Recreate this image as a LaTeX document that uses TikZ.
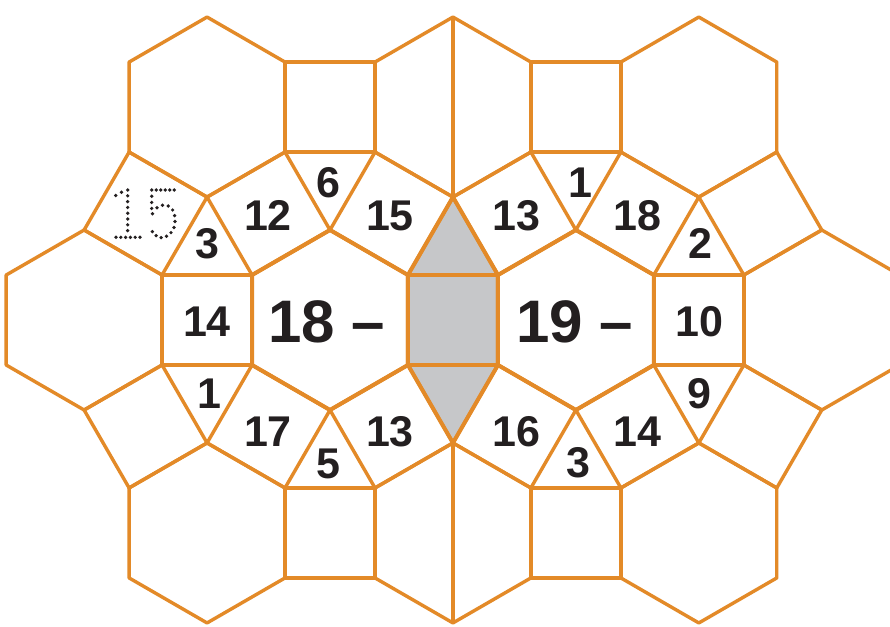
\documentclass[tikz,border=0pt]{standalone}
\usepackage{fontspec}
\setmainfont{Liberation Sans}
\usetikzlibrary{calc}
\definecolor{tileorange}{RGB}{227,138,40}
\definecolor{tilegray}{RGB}{198,199,201}
\definecolor{textdark}{RGB}{35,31,32}
\newcommand\mkhex[3]{%
  \coordinate (#1c) at (#2,#3);
  \coordinate (#1T) at (#2,#3-90);
  \coordinate (#1TR) at (#2+77.94,#3-45);
  \coordinate (#1BR) at (#2+77.94,#3+45);
  \coordinate (#1B) at (#2,#3+90);
  \coordinate (#1BL) at (#2-77.94,#3+45);
  \coordinate (#1TL) at (#2-77.94,#3-45);
}
\newcommand\drawhex[1]{\draw[tile] (#1T) -- (#1TR) -- (#1BR) -- (#1B) -- (#1BL) -- (#1TL) -- cycle;}
\newcommand\hsq[2]{\draw[tile] (#1TR) -- (#2TL) -- (#2BL) -- (#1BR) -- cycle;}
\newcommand\ursq[2]{\draw[tile] (#1T) -- (#2BL) -- (#2B) -- (#1TR) -- cycle;}
\newcommand\ulsq[2]{\draw[tile] (#1TL) -- (#2B) -- (#2BR) -- (#1T) -- cycle;}
\tikzset{
  tile/.style={draw=tileorange, line width=3.4pt, line join=round},
  inner/.style={draw=tileorange, line width=4pt, line join=round},
  num/.style={font=\bfseries\fontsize{43}{43}\selectfont, text=textdark, anchor=base, inner sep=0pt},
  bignum/.style={font=\bfseries\fontsize{60}{60}\selectfont, text=textdark, anchor=base, inner sep=0pt},
  dotd/.style={fill=textdark}
}
\begin{document}
\begin{tikzpicture}[x=1pt,y=-1pt]
\useasboundingbox (0,0) rectangle (890,626);
\clip (0,0) rectangle (890,626);
\fill[white] (0,0) rectangle (890,626);
% hexagon centres
\mkhex{hA}{84.12}{320}
\mkhex{hB}{330}{320}
\mkhex{hC}{575.88}{320}
\mkhex{hD}{821.76}{320}
\mkhex{uA}{207.06}{107.06}
\mkhex{uB}{452.94}{107.06}
\mkhex{uC}{698.82}{107.06}
\mkhex{dA}{207.06}{532.94}
\mkhex{dB}{452.94}{532.94}
\mkhex{dC}{698.82}{532.94}
% grey region
\fill[tilegray] (hBTR) -- (uBB) -- (hCTL) -- (hCBL) -- (dBT) -- (hBBR) -- cycle;
% hexagons
\drawhex{hA}\drawhex{hB}\drawhex{hC}\drawhex{hD}
\drawhex{uA}\drawhex{uB}\drawhex{uC}
\drawhex{dA}\drawhex{dB}\drawhex{dC}
% squares
\hsq{hA}{hB}\hsq{hB}{hC}\hsq{hC}{hD}
\hsq{uA}{uB}\hsq{uB}{uC}\hsq{dA}{dB}\hsq{dB}{dC}
\ursq{hB}{uB}\ursq{hC}{uC}\ursq{hA}{uA}
\ursq{dA}{hB}\ursq{dB}{hC}\ursq{dC}{hD}
\ulsq{hB}{uA}\ulsq{hC}{uB}\ulsq{hD}{uC}
\ulsq{dB}{hB}\ulsq{dC}{hC}\ulsq{dA}{hA}
% central region slightly heavier
\draw[inner] (hBT) -- (hBTR) -- (hBBR) -- (hBB) -- (hBBL) -- (hBTL) -- cycle;
\draw[inner] (hCT) -- (hCTR) -- (hCBR) -- (hCB) -- (hCBL) -- (hCTL) -- cycle;
\draw[inner] (hBTR) -- (uBB) -- (hCTL) -- (hCBL) -- (dBT) -- (hBBR) -- cycle;
% vertical split lines
\draw[tile] (uBT) -- (uBB);
\draw[tile] (dBT) -- (dBB);
% labels
\node[num] (n12) at (268,230) {12};
\node[num] (n6) at (328,197) {6};
\node[num] (n15) at (390,230) {15};
\node[num] (n3a) at (207.5,258) {3};
\node[num] (n14a) at (207,336) {14};
\node[bignum] (n18) at (327,342) {18 –};
\node[num] (n1b) at (209,408) {1};
\node[num] (n17) at (268,446) {17};
\node[num] (n5) at (328,478) {5};
\node[num] (n13b) at (390,446) {13};
\node[num] (n13a) at (516,230) {13};
\node[num] (n1a) at (580,197) {1};
\node[num] (n18a) at (637,230) {18};
\node[num] (n2) at (700,258) {2};
\node[bignum] (n19) at (575,342) {19 –};
\node[num] (n10) at (699,336.5) {10};
\node[num] (n9) at (699,408) {9};
\node[num] (n16) at (516,446) {16};
\node[num] (n14b) at (637,446) {14};
\node[num] (n3b) at (578,477) {3};
% dotted tracing numeral 15
\foreach \p in {(115.7,195.5),(121.5,192.3)} \fill[dotd] \p circle (1.85);
\foreach \yy in {190,195.8,201.6,207.4,213.2,219,224.8,230.6} \fill[dotd] (127.7,\yy) circle (1.85);
\foreach \xx in {116,120.8,125.6,130.4,135.2,140} \fill[dotd] (\xx,237.3) circle (1.85);
\foreach \xx in {151.7,156.2,160.7,165.2,169.8,174.3} \fill[dotd] (\xx,190) circle (1.85);
\foreach \yy in {196.2,202.4,208.4} \fill[dotd] (151.7,\yy) circle (1.85);
\foreach \p in {(152.5,213.8),(157,207.8),(162.5,205.2),(168.3,206),(172.6,210),(174.6,215.6),(175,221.5),(174,227.5),(171,232.6),(166.5,236.3),(161.2,237.6),(156.2,235.6),(152.3,231.6)} \fill[dotd] \p circle (1.85);
\end{tikzpicture}
\end{document}
